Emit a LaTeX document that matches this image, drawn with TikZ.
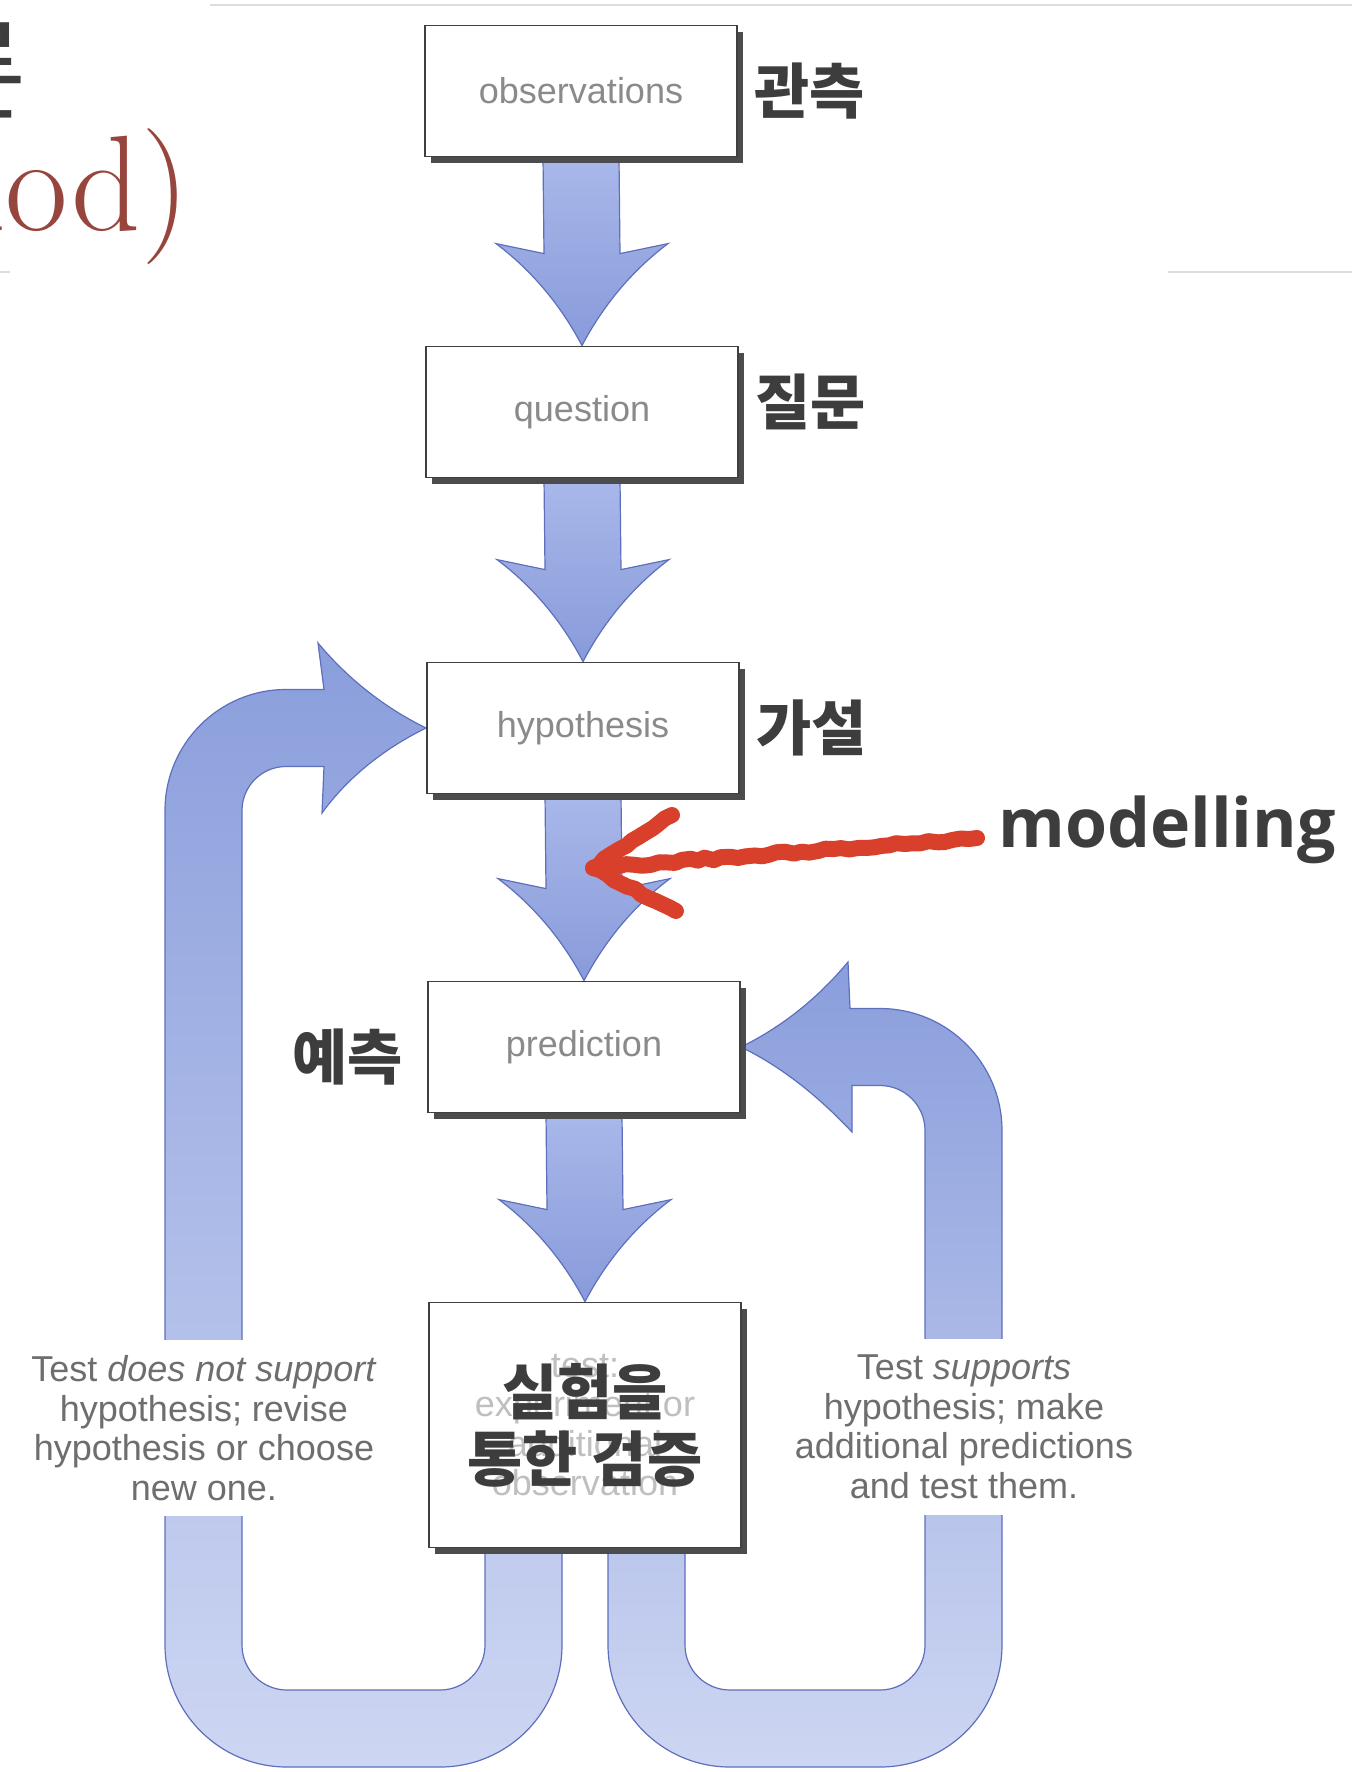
\documentclass[tikz,border=0pt]{standalone}
\usepackage{fontspec}
\usepackage{tikz}
\usetikzlibrary{calc,positioning,shadows,backgrounds,decorations.pathmorphing}
\newfontfamily\helv{Liberation Sans}
\newfontfamily\kr{Noto Sans CJK KR}
\newfontfamily\opensans{Open Sans}
\definecolor{arrowtop}{HTML}{A9B8EA}
\definecolor{arrowbot}{HTML}{889BDA}
\definecolor{arrowedge}{HTML}{5E6FBD}
\definecolor{loopdark}{HTML}{8A9EDC}
\definecolor{looplight}{HTML}{CDD6F2}
\definecolor{labelgray}{HTML}{8A8A8A}
\definecolor{notegray}{HTML}{6E6E6E}
\definecolor{krgray}{HTML}{3D3D3D}
\definecolor{titlered}{HTML}{97463E}
\definecolor{penred}{HTML}{D9402B}
\definecolor{slideline}{HTML}{DDDDDD}

\tikzset{
  box/.style={draw=black!75, line width=0.9pt, fill=white, minimum width=156pt,
    minimum height=65.5pt, inner sep=0pt, text=labelgray,
    font=\helv\fontsize{18}{20}\selectfont,
    drop shadow={shadow xshift=3pt, shadow yshift=-3pt, fill=black!70, opacity=1}},
  krlab/.style={inner sep=0pt, text=krgray, font=\kr\bfseries\fontsize{30}{33.5}\selectfont},
  sidenote/.style={align=center, fill=white, inner xsep=2pt, minimum height=88pt,
    text=notegray, font=\helv\fontsize{18}{19.75}\selectfont},
  ghost/.style={align=center, inner sep=0pt, text=black!25,
    font=\helv\fontsize{18}{19.75}\selectfont},
  fatarr/.style={draw=arrowedge, line width=0.6pt, top color=arrowtop, bottom color=arrowbot},
  looparr/.style={draw=arrowedge, line width=0.6pt, top color=loopdark, bottom color=looplight},
  redpen/.style={draw=penred, line width=8pt, line cap=round, line join=round,
    decorate, decoration={random steps, segment length=4pt, amplitude=0.8pt}},
}

% block arrow from the bottom of #1 to the top of #2
\newcommand{\fatarrow}[2]{%
  \path[fatarr] ($(#1.south)+(-38,0)$) -- ($(#2.north)+(-38,-92)$) -- ($(#2.north)+(-86,-102)$)
    .. controls ($(#2.north)+(-50,-75)$) and ($(#2.north)+(-21,-40)$) .. (#2.north)
    .. controls ($(#2.north)+(21,-40)$) and ($(#2.north)+(50,-75)$) .. ($(#2.north)+(86,-102)$)
    -- ($(#2.north)+(38,-92)$) -- ($(#1.south)+(38,0)$) -- cycle;}

\begin{document}
\begin{tikzpicture}[x=0.5pt,y=0.5pt,yscale=-1,xscale=1]
    \useasboundingbox (0,0) rectangle (1352,1772);
    \clip (0,0) rectangle (1352,1772);
    \pgfmathsetseed{7}

    % Slide header
    \draw[slideline, line width=1pt] (210,5) -- (1352,5);
    \draw[slideline, line width=1pt] (1168,272) -- (1352,272);
    \draw[slideline, line width=1pt] (0,272) -- (10,272);
    \node[anchor=base east, inner sep=0pt, text=krgray, font=\kr\fontsize{55}{60}\selectfont] (ttlkr) at (27,110) {방법론};
    \node[anchor=base east, inner sep=0pt, text=titlered, font=\fontsize{68}{70}\selectfont] (ttl) at (190,230) {Method)};

    % Boxes
    \node[box] (obs) at (581,91) {observations};
    \node[box] (quest) at (582,412) {question};
    \node[box] (hyp) at (583,728) {hypothesis};
    \node[box] (pred) at (584,1047) {prediction};
    \node[box, minimum height=122.5pt] (test) at (585,1425) {};

    % Text Node
    \node[ghost] (ghosttxt) at (test) {test:\\experiment or\\additional\\observation};
    \node[krlab, align=center] (verify) at (test) {실험을\\통한 검증};
    \node[krlab, right=8pt of obs] (obslab) {관측};
    \node[krlab, right=8pt of quest, yshift=5pt] (questlab) {질문};
    \node[krlab, right=8pt of hyp] (hyplab) {가설};
    \node[krlab, left=12pt of pred, yshift=-5pt] (predlab) {예측};
    \node[sidenote] (nosup) at (204,1428) {Test \textit{does not support}\\hypothesis; revise\\hypothesis or choose\\new one.};
    \node[sidenote] (sup) at (964,1427) {Test \textit{supports}\\hypothesis; make\\additional predictions\\and test them.};

    \begin{scope}[on background layer]
    % Loop back to hypothesis
    \path[looparr] (hyp.west) .. controls (385,708) and (348,679) .. (318,643) -- (324,689.5)
      -- (286,689.5) arc[start angle=-90, end angle=-180, radius=121]
      -- (165,1645) arc[start angle=180, end angle=90, radius=122]
      -- (440,1767) arc[start angle=90, end angle=0, radius=122]
      -- (562,1500) -- (485,1500)
      -- (485,1645) arc[start angle=0, end angle=90, radius=45]
      -- (287,1690) arc[start angle=90, end angle=180, radius=45]
      -- (242,810.5) arc[start angle=180, end angle=270, radius=44]
      -- (324,766.5) -- (322,813) .. controls (348,777) and (385,748) .. (hyp.west) -- cycle;
    % Loop back to prediction
    \path[looparr] (pred.east) .. controls (782,1027) and (818,998) .. (848,962) -- (850,1008.5)
      -- (880,1008.5) arc[start angle=-90, end angle=0, radius=122]
      -- (1002,1645) arc[start angle=0, end angle=90, radius=122]
      -- (730,1767) arc[start angle=90, end angle=180, radius=122]
      -- (608,1500) -- (685,1500)
      -- (685,1645) arc[start angle=180, end angle=90, radius=45]
      -- (880,1690) arc[start angle=90, end angle=0, radius=45]
      -- (925,1130.5) arc[start angle=0, end angle=-90, radius=45]
      -- (852,1085.5) -- (852,1132) .. controls (818,1096) and (782,1067) .. (pred.east) -- cycle;
    % Block Arrows
    \fatarrow{obs}{quest}
    \fatarrow{quest}{hyp}
    \fatarrow{hyp}{pred}
    \fatarrow{pred}{test}
    \end{scope}

    % Modelling note
    \node[anchor=west, inner sep=0pt, text=krgray, font=\opensans\bfseries\fontsize{34}{40}\selectfont] (mod) at (998,830) {modelling};
    \coordinate (rtip) at (593,868);
    \draw[redpen] ($(mod.west)+(-21,8)$) -- (rtip);
    \draw[redpen] ($(rtip)+(79,-53)$) -- (rtip) -- ($(rtip)+(83,43)$);
\end{tikzpicture}
\end{document}
